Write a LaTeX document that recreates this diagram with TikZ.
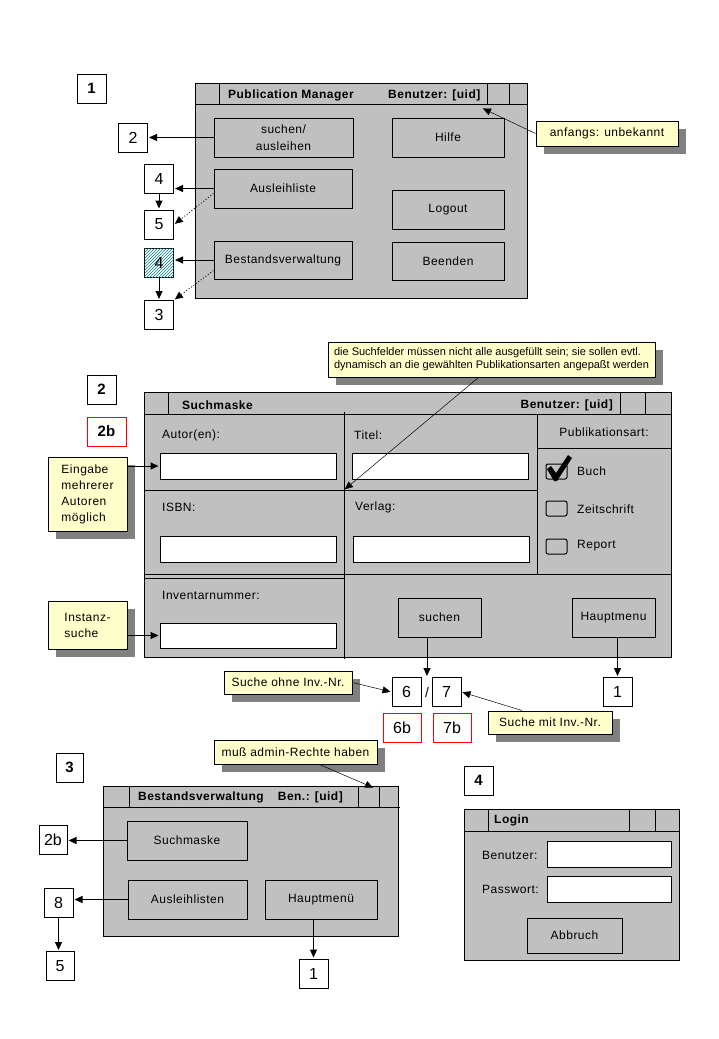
\documentclass[tikz,border=0pt]{standalone}
\usepackage{fontspec}
\setmainfont{Liberation Sans}
\newfontfamily\uifont{Liberation Sans}[LetterSpace=4]
\usetikzlibrary{arrows.meta, positioning, shadows, patterns}

\definecolor{wingray}{HTML}{C0C0C0}
\definecolor{notefill}{HTML}{FFFFCC}
\definecolor{shadowgray}{HTML}{808080}
\definecolor{hatchteal}{HTML}{008080}

\tikzset{
    win/.style={draw, fill=wingray, line width=1pt},
    winline/.style={line width=1pt},
    btn/.style={draw, fill=wingray, line width=1pt, inner sep=0pt, align=center,
        font=\uifont\fontsize{12}{17}\selectfont},
    field/.style={draw, fill=white, line width=1pt, inner sep=0pt},
    lbl/.style={inner sep=0pt, anchor=west, font=\uifont\fontsize{12}{16}\selectfont},
    ttl/.style={inner sep=0pt, font=\uifont\bfseries\fontsize{12}{14}\selectfont},
    num/.style={draw, fill=white, line width=1pt, inner sep=0pt, minimum width=29,
        minimum height=29, font=\fontsize{16}{16}\selectfont},
    numb/.style={num, font=\bfseries\fontsize{15}{15}\selectfont},
    note/.style={draw, fill=notefill, line width=1pt, inner sep=0pt,
        font=\uifont\fontsize{12}{16}\selectfont,
        drop shadow={shadow xshift=8pt, shadow yshift=-8pt, fill=shadowgray, opacity=1}},
    link/.style={-{Triangle[length=8pt,width=7pt]}, line width=1pt, shorten >=1pt},
    dots/.style={line width=0.8pt, dash pattern=on 1pt off 2pt}
}

\begin{document}
\begin{tikzpicture}[x=1pt, y=-1pt]
\useasboundingbox (0,0) rectangle (719,1039);

% Publication Manager
\node[numb] (nr1) at (91.5,88.5) {1};
\draw[win] (195,83) rectangle (527,298);
\draw[winline] (195,104) -- (527,104) (219,83) -- (219,104) (487,83) -- (487,104) (509,83) -- (509,104);
\node[ttl, anchor=west] (pmtitle) at (228,95) {Publication Manager};
\node[ttl, anchor=west] (pmuser) at (388,95) {Benutzer: [uid]};
\node[btn, minimum width=139, minimum height=39] (suchen) at (283.5,137.5) {suchen/\\ausleihen};
\node[btn, minimum width=138, minimum height=39] (ausl) at (283,188.5) {Ausleihliste};
\node[btn, minimum width=138, minimum height=38] (bestand) at (283,260) {Bestandsverwaltung};
\node[btn, minimum width=112, minimum height=39] (hilfe) at (448,137.5) {Hilfe};
\node[btn, minimum width=112, minimum height=39] (logout) at (448,209.5) {Logout};
\node[btn, minimum width=112, minimum height=38] (beenden) at (448,261) {Beenden};

\node[num] (nrA2) at (133,137.5) {2};
\node[num] (nrA4) at (159,178.5) {4};
\node[num] (nrA5) at (159,224.5) {5};
\node[num, fill=white, postaction={pattern=north east lines, pattern color=hatchteal}] (nrA4h) at (159,262.5) {4};
\node[num] (nrA3) at (159,315) {3};

\draw[link] (suchen.west) -- (suchen.west -| nrA2.east);
\draw[link] (ausl.west) -- (ausl.west -| nrA4.east);
\draw[link] (nrA4.south) -- (nrA5.north);
\draw[link, dots] ([yshift=15pt]ausl.south west) -- (nrA5.east);
\draw[link] (bestand.west) -- (bestand.west -| nrA4h.east);
\draw[link] (nrA4h.south) -- (nrA3.north);
\draw[link, dots] ([yshift=9pt]bestand.south west) -- (nrA3.north east);

\node[note, minimum width=142, minimum height=25] (anf) at (607,133.5) {anfangs: unbekannt};
\coordinate (uidpt) at (482,108);
\draw[link, line width=0.5pt] (anf.west) -- (uidpt);

% Suchmaske
\node[numb] (nr2) at (101.5,389.5) {2};
\node[numb, draw=red, minimum width=39] (nr2b) at (106.5,431.5) {2b};
\draw[win] (144,392) rectangle (671,657);
\draw[winline] (144,414) -- (671,414) (168,392) -- (168,414) (620,392) -- (620,414) (645,392) -- (645,414);
\draw[winline] (344,412) -- (344,659);
\draw[winline] (144,490) -- (537,490) (537,414) -- (537,574) (537,448) -- (671,448);
\draw[winline] (144,574) -- (671,574) (144,578) -- (344,578);
\node[ttl, anchor=west] (smtitle) at (182,405) {Suchmaske};
\node[ttl, anchor=east] (smuser) at (613,405) {Benutzer: [uid]};

\node[lbl] (lautor) at (162,435) {Autor(en):};
\node[lbl] (ltitel) at (354,435) {Titel:};
\node[lbl] (lisbn) at (162,507) {ISBN:};
\node[lbl] (lverlag) at (355,507) {Verlag:};
\node[lbl] (linv) at (162,595) {Inventarnummer:};
\node[lbl, anchor=center] (lart) at (604,432) {Publikationsart:};

\node[field, minimum width=176, minimum height=26] (autor) at (248,466) {};
\node[field, minimum width=176, minimum height=26] (titel) at (440,466) {};
\node[field, minimum width=176, minimum height=26] (isbn) at (248,549) {};
\node[field, minimum width=176, minimum height=26] (verlag) at (441,549) {};
\node[field, minimum width=176, minimum height=25] (inv) at (248,635.5) {};

% Publikationsarten
\draw[line width=1pt, rounded corners=2pt] (546,464) rectangle (567,479);
\fill (547,469) -- (551,466) -- (556,473) -- (568,455) -- (572,458) -- (557,481) -- (554,481) -- cycle;
\node[lbl] (lbuch) at (577,471) {Buch};
\draw[line width=1pt, rounded corners=2pt] (546,501) rectangle (567,516);
\node[lbl] (lzeit) at (577,509) {Zeitschrift};
\draw[line width=1pt, rounded corners=2pt] (546,539) rectangle (567,554);
\node[lbl] (lreport) at (577,546) {Report};

\node[btn, minimum width=83, minimum height=39] (suchbtn) at (439.5,617.5) {suchen};
\node[btn, minimum width=83, minimum height=39] (hauptbtn) at (613.5,617.5) {Hauptmenu};

\node[note, minimum width=79, minimum height=74, align=left] (eing) at (87.5,494) {Eingabe\\mehrerer\\Autoren\\möglich};
\node[note, minimum width=79, minimum height=48, align=left] (instanz) at (87.5,625) {Instanz-\\suche};
\draw[link] (eing.east |- autor.west) -- (autor.west);
\draw[link] (instanz.east |- inv.west) -- (inv.west);

\node[note, minimum width=327, minimum height=35, align=left, font=\fontsize{11}{13}\selectfont] (hint) at (491.5,359.5)
    {die Suchfelder müssen nicht alle ausgefüllt sein; sie sollen evtl.\\dynamisch an die gewählten Publikationsarten angepaßt werden};
\coordinate (cross) at (344,490);
\draw[link, line width=0.5pt] ([xshift=-13pt]hint.south) -- (cross);

\node[num] (nr6) at (406.5,692) {6};
\node[inner sep=0pt, font=\fontsize{14}{14}\selectfont] (slash) at (427,692) {/};
\node[num] (nr7) at (446.5,692) {7};
\node[num] (nr1b) at (617.5,692) {1};
\node[num, draw=red, minimum width=38] (nr6b) at (402,727.5) {6b};
\node[num, draw=red, minimum width=38] (nr7b) at (452,727.5) {7b};
\draw[link] (suchbtn.south -| slash) -- (slash |- nr6.north);
\draw[link] (hauptbtn.south -| nr1b) -- (nr1b.north);

\node[note, minimum width=128, minimum height=23] (ohne) at (288,682.5) {Suche ohne Inv.-Nr.};
\node[note, minimum width=124, minimum height=23] (mit) at (550,722.5) {Suche mit Inv.-Nr.};
\draw[link, line width=0.5pt] (ohne.east) -- (nr6.west);
\draw[link, line width=0.5pt] ([xshift=-28pt]mit.north) -- (nr7.east);

% Bestandsverwaltung
\node[numb, minimum width=27] (nr3) at (69.5,767.5) {3};
\node[note, minimum width=163, minimum height=24] (admin) at (295.5,752) {muß admin-Rechte haben};
\draw[win] (103,786) rectangle (398,936);
\draw[winline] (103,807) -- (400,807) (129,786) -- (129,807) (358,786) -- (358,807) (379,786) -- (379,807);
\node[ttl, anchor=west] (bvtitle) at (138,797) {Bestandsverwaltung};
\node[ttl, anchor=east] (bvuser) at (343,797) {Ben.: [uid]};
\coordinate (adminpt) at (374,788);
\draw[link, line width=0.5pt] ([xshift=24pt]admin.south) -- (adminpt);

\node[btn, minimum width=120, minimum height=39] (suchm) at (187,840.5) {Suchmaske};
\node[btn, minimum width=119, minimum height=39] (ausll) at (187.5,899.5) {Ausleihlisten};
\node[btn, minimum width=112, minimum height=39] (hauptm) at (321,899.5) {Hauptmenü};

\node[num, minimum width=28] (nrC2b) at (53,839.5) {2b};
\node[num] (nr8) at (58.5,902.5) {8};
\node[num, minimum width=28] (nrC5) at (60,966) {5};
\node[num] (nrC1) at (313.5,973.5) {1};
\draw[link] (suchm.west) -- (suchm.west -| nrC2b.east);
\draw[link] (ausll.west) -- (ausll.west -| nr8.east);
\draw[link] (nr8.south) -- (nr8.south |- nrC5.north);
\draw[link] (hauptm.south -| nrC1) -- (nrC1.north);

% Login
\node[numb] (nr4) at (478.5,780.5) {4};
\draw[win] (464,809) rectangle (679,960);
\draw[winline] (464,831) -- (679,831) (488,809) -- (488,831) (629,809) -- (629,831) (655,809) -- (655,831);
\node[ttl, anchor=west] (lgtitle) at (494,820) {Login};
\node[lbl] (luser) at (482,855) {Benutzer:};
\node[lbl] (lpass) at (482,889) {Passwort:};
\node[field, minimum width=124, minimum height=26] (user) at (609,854) {};
\node[field, minimum width=124, minimum height=26] (pass) at (609,889) {};
\node[btn, minimum width=95, minimum height=35] (abbruch) at (574.5,935.5) {Abbruch};
\end{tikzpicture}
\end{document}
